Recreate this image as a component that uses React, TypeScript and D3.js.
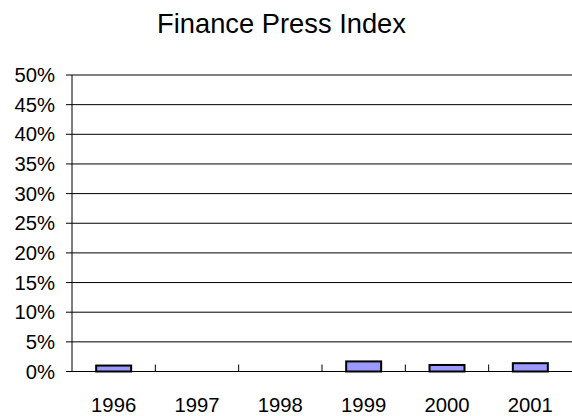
import React from "react";
import * as d3 from "d3";

const years = ["1996", "1997", "1998", "1999", "2000", "2001"];
const values = [1.0, 0, 0, 1.7, 1.1, 1.4];
const yTicks = [0, 5, 10, 15, 20, 25, 30, 35, 40, 45, 50];

export default function App() {
  const W = 572, H = 416;
  const left = 72, right = 572, top = 75, bottom = 371.5;
  const x = d3.scaleBand().domain(years).range([left, right]).paddingInner(0).paddingOuter(0);
  const y = d3.scaleLinear().domain([0, 50]).range([bottom, top]);
  const bw = x.bandwidth() * 0.42;
  const font = "'Liberation Sans', Arial, sans-serif";
  return (
    <svg width={W} height={H} style={{ position: "absolute", left: 0, top: 0 }}>
      <rect x={0} y={0} width={W} height={H} fill="#fff" />
      <text x={281.5} y={32.7} textAnchor="middle" fontFamily={font} fontSize={27.3} fill="#000">
        Finance Press Index
      </text>
      {yTicks.map((t) => (
        <g key={t}>
          <line x1={left - 6} x2={right} y1={y(t)} y2={y(t)} stroke="#000" strokeWidth={1} />
          <text x={55} y={y(t)} dy="0.35em" textAnchor="end" fontFamily={font} fontSize={20.3} fill="#000">
            {t}%
          </text>
        </g>
      ))}
      <line x1={left} x2={left} y1={top} y2={bottom} stroke="#000" strokeWidth={1} />
      {years.slice(1).map((yr) => (
        <line key={yr} x1={x(yr)} x2={x(yr)} y1={bottom - 7} y2={bottom} stroke="#000" strokeWidth={1} />
      ))}
      {years.map((yr, i) =>
        values[i] > 0 ? (
          <rect
            key={yr}
            x={(x(yr) as number) + x.bandwidth() / 2 - bw / 2}
            y={y(values[i])}
            width={bw}
            height={bottom - y(values[i])}
            fill="#9999FF"
            stroke="#000"
            strokeWidth={2}
          />
        ) : null
      )}
      {years.map((yr) => (
        <text key={yr} x={(x(yr) as number) + x.bandwidth() / 2} y={411.5} textAnchor="middle" fontFamily={font} fontSize={20.3} fill="#000">
          {yr}
        </text>
      ))}
    </svg>
  );
}
